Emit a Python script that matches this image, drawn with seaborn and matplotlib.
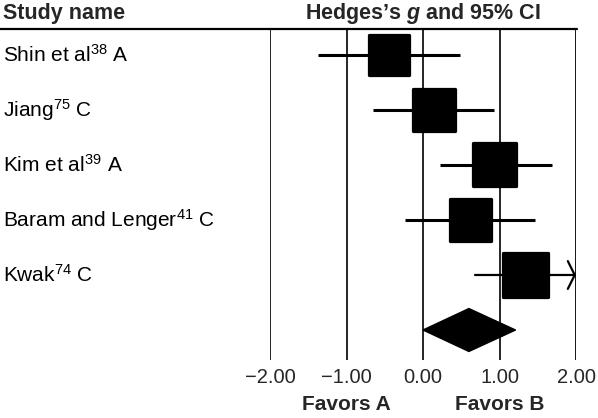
import matplotlib
matplotlib.use("Agg")
import matplotlib.pyplot as plt
import matplotlib.transforms as mtransforms
import seaborn as sns
import pandas as pd
import numpy as np
from matplotlib.lines import Line2D

studies = ["Shin et al$^{38}$ A", "Jiang$^{75}$ C", "Kim et al$^{39}$ A",
           "Baram and Lenger$^{41}$ C", "Kwak$^{74}$ C"]
effect = [-0.45, 0.14, 0.94, 0.62, 1.34]
lower = [-1.37, -0.65, 0.22, -0.23, 0.68]
upper = [0.48, 0.93, 1.68, 1.47, 2.20]
weight = [40, 42, 43, 41, 44]
summary = [0.00, 0.60, 1.21]  # lower, estimate, upper
xticks = [-2.0, -1.0, 0.0, 1.0, 2.0]
xticklabels = ["\u22122.00", "\u22121.00", "0.00", "1.00", "2.00"]

sns.set_theme(style="white")
plt.rcParams['font.family'] = ['Liberation Sans', 'DejaVu Sans']
plt.rcParams['mathtext.fontset'] = 'custom'
plt.rcParams['mathtext.rm'] = 'Liberation Sans'
plt.rcParams['mathtext.it'] = 'Liberation Sans:italic'
plt.rcParams['mathtext.bf'] = 'Liberation Sans:bold'
plt.rcParams['mathtext.bfit'] = 'Liberation Sans:italic:bold'

fig = plt.figure(figsize=(5.98, 4.18), dpi=100)
ax = fig.add_axes([270/598, 58/418, 306/598, 331/418])

df = pd.DataFrame({"study": studies, "effect": effect, "lower": lower,
                   "upper": upper, "row": np.arange(len(studies)), "w": weight})

# reference lines
for i, xv in enumerate(xticks):
    ax.axvline(xv, color="black", lw=2.0 if i == len(xticks) - 1 else 1.2, zorder=1)

# CI lines (clip at axis limit, arrow if beyond)
for r, lo, hi in zip(df["row"], df["lower"], df["upper"]):
    if hi > xticks[-1]:
        ax.annotate("", xy=(xticks[-1], r), xytext=(lo, r),
                    arrowprops=dict(arrowstyle="->,head_length=0.25,head_width=0.5",
                                    color="black", lw=1.6, shrinkA=0, shrinkB=0,
                                    mutation_scale=20), zorder=2)
    else:
        ax.hlines(r, lo, hi, color="black", lw=2.2, zorder=2)

sns.scatterplot(data=df, x="effect", y="row", size="w", sizes=(40**2*0.52, 44**2*0.52),
                marker="s", color="black", edgecolor="black", legend=False, ax=ax,
                zorder=3)

# summary diamond
n = len(studies)
dx = [summary[0], summary[1], summary[2], summary[1]]
dy = [n, n - 0.39, n, n + 0.39]
ax.fill(dx, dy, color="black", zorder=3)

ax.set_xlim(-2.0, 2.0)
ax.set_ylim(n + 0.545, -0.47)
ax.set_xticks(xticks)
ax.set_xticklabels(xticklabels, fontsize=14.5)
ax.tick_params(axis="x", length=0, pad=6)
ax.set_yticks([])
ax.set_xlabel("")
ax.set_ylabel("")
for s in ax.spines.values():
    s.set_visible(False)

# row labels
trans = mtransforms.blended_transform_factory(fig.transFigure, ax.transData)
for r, name in zip(df["row"], df["study"]):
    ax.text(3/598, r, name, transform=trans, ha="left", va="center",
            fontsize=15, color="black")

# headers
fig.text(3/598, 1 - 13/418, "Study name", ha="left", va="center", fontsize=15.5,
         fontweight="bold")
fig.text(423/598, 1 - 13/418, r"Hedges’s $\mathbfit{g}$ and 95% CI", ha="center",
         va="center", fontsize=15.5, fontweight="bold")
fig.add_artist(Line2D([0, 577/598], [1 - 29/418, 1 - 29/418], color="black", lw=1.6))

fig.text(346/598, 1 - 405/418, "Favors A", ha="center", va="center", fontsize=15,
         fontweight="bold")
fig.text(500/598, 1 - 405/418, "Favors B", ha="center", va="center", fontsize=15,
         fontweight="bold")

fig.savefig("out.png", dpi=100)
